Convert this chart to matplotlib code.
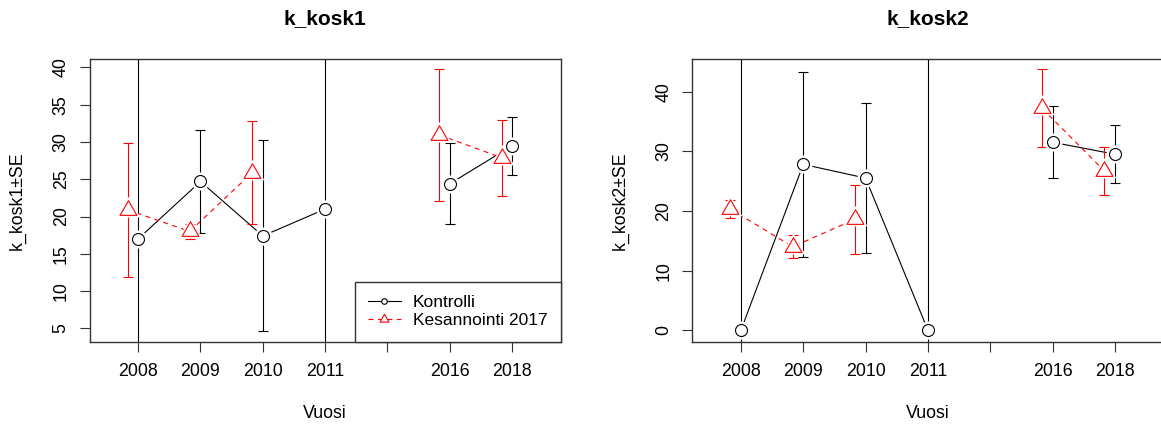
import numpy as np
import matplotlib
matplotlib.use('Agg')
import matplotlib.pyplot as plt
from matplotlib.lines import Line2D
from matplotlib.path import Path

plt.rcParams['font.family'] = ['Liberation Sans', 'DejaVu Sans']

nan = np.nan

# categories on the x axis (blank slot between 2011 and 2016)
tick_labels = ['2008', '2009', '2010', '2011', '', '2016', '2018']

# k_kosk1 : mean and SE per year
k1_kontrolli = [17.0, 24.7, 17.4, 21.0, nan, 24.4, 29.5]
k1_kontrolli_se = [30.0, 6.9, 12.8, 30.0, nan, 5.45, 3.9]
k1_kesa = [20.9, 18.0, 25.9, nan, nan, 30.95, 27.9]
k1_kesa_se = [9.0, 1.0, 6.9, nan, nan, 8.8, 5.1]

# k_kosk2
k2_kontrolli = [0.0, 27.8, 25.5, 0.0, nan, 31.5, 29.5]
k2_kontrolli_se = [50.0, 15.5, 12.6, 50.0, nan, 6.0, 4.9]
k2_kesa = [20.3, 14.0, 18.6, nan, nan, 37.2, 26.7]
k2_kesa_se = [1.5, 1.9, 5.8, nan, nan, 6.5, 4.0]

series_names = ['Kontrolli', 'Kesannointi 2017']

# R-like equilateral triangle (pch=2), centred on centroid
tri = Path([(-1, -0.57735), (1, -0.57735), (0, 1.1547), (-1, -0.57735)],
           [Path.MOVETO, Path.LINETO, Path.LINETO, Path.CLOSEPOLY])
dodge = 0.17


def draw_panel(ax, title, ylabel, kon, kon_se, kes, kes_se, ylim, yticks):
    x = np.arange(1, len(tick_labels) + 1)
    kon = np.array(kon)
    kes = np.array(kes)

    ax.plot(x, kon, color='black', lw=0.8, zorder=2)
    ax.plot(x - dodge, kes, color='red', lw=0.8, ls=(0, (4.5, 4)), zorder=2)
    ax.errorbar(x, kon, yerr=kon_se, fmt='none', ecolor='black',
                elinewidth=0.8, capsize=3.6, capthick=0.8, zorder=2)
    ax.errorbar(x - dodge, kes, yerr=kes_se, fmt='none', ecolor='red',
                elinewidth=0.8, capsize=3.6, capthick=0.8, zorder=2)

    # white halo gives the type="b" gaps around the points
    ax.plot(x, kon, ls='none', marker='o', ms=12, mfc='white', mec='white', zorder=3)
    ax.plot(x - dodge, kes, ls='none', marker=tri, ms=18, mfc='white', mec='white', zorder=3)
    ax.plot(x, kon, ls='none', marker='o', ms=8.6, mfc='white', mec='black', mew=0.8, zorder=4)
    ax.plot(x - dodge, kes, ls='none', marker=tri, ms=14, mfc='white', mec='red', mew=0.8, zorder=4)

    ax.set_xlim(0.22, 7.78)
    ax.set_ylim(*ylim)
    ax.set_xticks(x)
    ax.set_xticklabels(tick_labels)
    ax.set_yticks(yticks)
    ax.tick_params(direction='out', length=7.2, width=0.8, labelsize=12.8, color='#333333')
    ax.tick_params(axis='x', pad=8)
    ax.tick_params(axis='y', pad=7, labelrotation=90)
    for t in ax.get_yticklabels():
        t.set_va('center')
    for s in ax.spines.values():
        s.set_color('#333333')
        s.set_linewidth(1.0)

    ax.set_title(title, fontsize=15, fontweight='bold', pad=25)
    ax.set_xlabel('Vuosi', fontsize=12.8)
    ax.xaxis.set_label_coords(0.5, -0.225)
    ax.set_ylabel(ylabel, fontsize=12.8)
    ax.yaxis.set_label_coords(-0.135, 0.5)


fig = plt.figure(figsize=(11.61, 4.30), dpi=100)
ax1 = fig.add_axes([0.0771, 0.2058, 0.4059, 0.657])
ax2 = fig.add_axes([0.5963, 0.2058, 0.4059, 0.657])

draw_panel(ax1, 'k_kosk1', 'k_kosk1\u00b1SE', k1_kontrolli, k1_kontrolli_se,
           k1_kesa, k1_kesa_se, (3.24, 41.13), [5, 10, 15, 20, 25, 30, 35, 40])
draw_panel(ax2, 'k_kosk2', 'k_kosk2\u00b1SE', k2_kontrolli, k2_kontrolli_se,
           k2_kesa, k2_kesa_se, (-1.89, 45.46), [0, 10, 20, 30, 40])

h1 = Line2D([], [], color='black', lw=0.8, marker='o', ms=4, mfc='white', mec='black', mew=0.8)
h2 = Line2D([], [], color='red', lw=0.8, ls=(0, (4.5, 4)), marker=tri, ms=7.5,
            mfc='white', mec='red', mew=0.8)
leg = ax1.legend([h1, h2], series_names, loc='lower right', borderaxespad=0,
                 fancybox=False, edgecolor='#333333', framealpha=1, fontsize=12.5,
                 handlelength=1.9, handletextpad=0.7, borderpad=0.75, labelspacing=0.2)
leg.get_frame().set_linewidth(1.0)

fig.savefig('out.png', dpi=100)
